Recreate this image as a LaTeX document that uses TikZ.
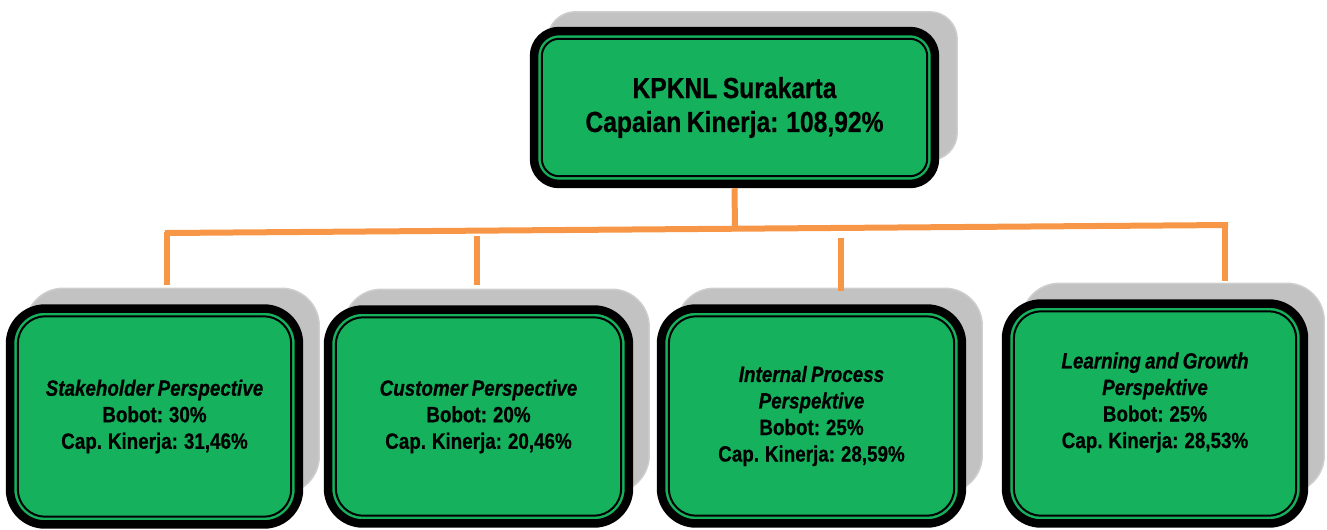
\documentclass[tikz,border=0pt]{standalone}
\usepackage{fontspec}
\setmainfont{Liberation Sans}[FakeStretch=0.85,WordSpace=0.8,BoldFeatures={FakeBold=0.6},BoldItalicFeatures={FakeBold=0.6}]
\definecolor{boxgreen}{RGB}{22,177,93}
\definecolor{linkorange}{RGB}{247,150,70}
\definecolor{shadowgray}{RGB}{194,194,194}
\begin{document}
\begin{tikzpicture}[x=0.02cm,y=-0.02cm,
  topbox/.style={draw=black,line width=0.17cm,fill=boxgreen,rounded corners=0.5cm,
    minimum width=8.02cm,minimum height=3.06cm,inner sep=0pt,align=center,
    font=\fontsize{16.5}{19.3}\selectfont\bfseries},
  perbox/.style={draw=black,line width=0.17cm,fill=boxgreen,rounded corners=0.7cm,
    inner sep=0pt,align=center,font=\fontsize{12.6}{15.1}\selectfont\bfseries},
  innerline/.style={draw=black,line width=0.04cm},
  shadowbox/.style={fill=shadowgray,draw=shadowgray!80!white,line width=0.03cm},
  conn/.style={draw=linkorange,line width=0.12cm}]
\useasboundingbox (0,0) rectangle (1327,529);

% node places
\path
  node[topbox,opacity=0] (top) at (734.5,107.5) {}
  node[perbox,opacity=0,minimum width=5.78cm,minimum height=4.32cm] (b1) at (154.5,416.5) {}
  node[perbox,opacity=0,minimum width=6.02cm,minimum height=4.28cm] (b2) at (478.5,416.5) {}
  node[perbox,opacity=0,minimum width=6.02cm,minimum height=4.30cm] (b3) at (811.5,416) {}
  node[perbox,opacity=0,minimum width=5.96cm,minimum height=4.40cm] (b4) at (1155,413.5) {};

% shadows
\draw[shadowbox,rounded corners=0.55cm] ([shift={(18,-15)}]top.north west) rectangle ([shift={(18,-28)}]top.south east);
\foreach \b in {b1,b2,b3,b4}{
  \draw[shadowbox,rounded corners=0.75cm] ([shift={(20,-16)}]\b.north west) rectangle ([shift={(16,-35)}]\b.south east);
}

% boxes
\node[topbox] at (top) {KPKNL Surakarta\\Capaian Kinerja: 108,92\%};
\node[perbox,minimum width=5.78cm,minimum height=4.32cm] at (b1) {\textit{Stakeholder Perspective}\\Bobot: 30\%\\Cap. Kinerja: 31,46\%};
\node[perbox,minimum width=6.02cm,minimum height=4.28cm] at (b2) {\textit{Customer Perspective}\\Bobot: 20\%\\Cap. Kinerja: 20,46\%};
\node[perbox,minimum width=6.02cm,minimum height=4.30cm] at (b3) {\textit{Internal Process}\\\textit{Perspektive}\\Bobot: 25\%\\Cap. Kinerja: 28,59\%};
\node[perbox,minimum width=5.96cm,minimum height=4.40cm] at (b4) {\textit{Learning and Growth}\\\textit{Perspektive}\\Bobot: 25\%\\Cap. Kinerja: 28,53\%\\\mbox{}};

% inner thin lines
\draw[innerline,rounded corners=0.35cm] ([shift={(12,-12)}]top.south west) rectangle ([shift={(-12,12)}]top.north east);
\foreach \b in {b1,b2,b3,b4}{
  \draw[innerline,rounded corners=0.55cm] ([shift={(12,-12)}]\b.south west) rectangle ([shift={(-12,12)}]\b.north east);
}

% connectors
\coordinate (busL) at (165,233);
\coordinate (busR) at (1228,225);
\coordinate (busT) at (735,230);
\coordinate (j1) at (167,232);  \coordinate (e1) at (167,285);
\coordinate (j2) at (477,236);  \coordinate (e2) at (477,285);
\coordinate (j3) at (841,238);  \coordinate (e3) at (841,291);
\coordinate (j4) at (1225,225); \coordinate (e4) at (1225,281);
\draw[conn] (top.south) -- (busT);
\draw[conn] (busL) -- (busR);
\draw[conn] (j1) -- (e1);
\draw[conn] (j2) -- (e2);
\draw[conn] (j3) -- (e3);
\draw[conn] (j4) -- (e4);
\end{tikzpicture}
\end{document}
